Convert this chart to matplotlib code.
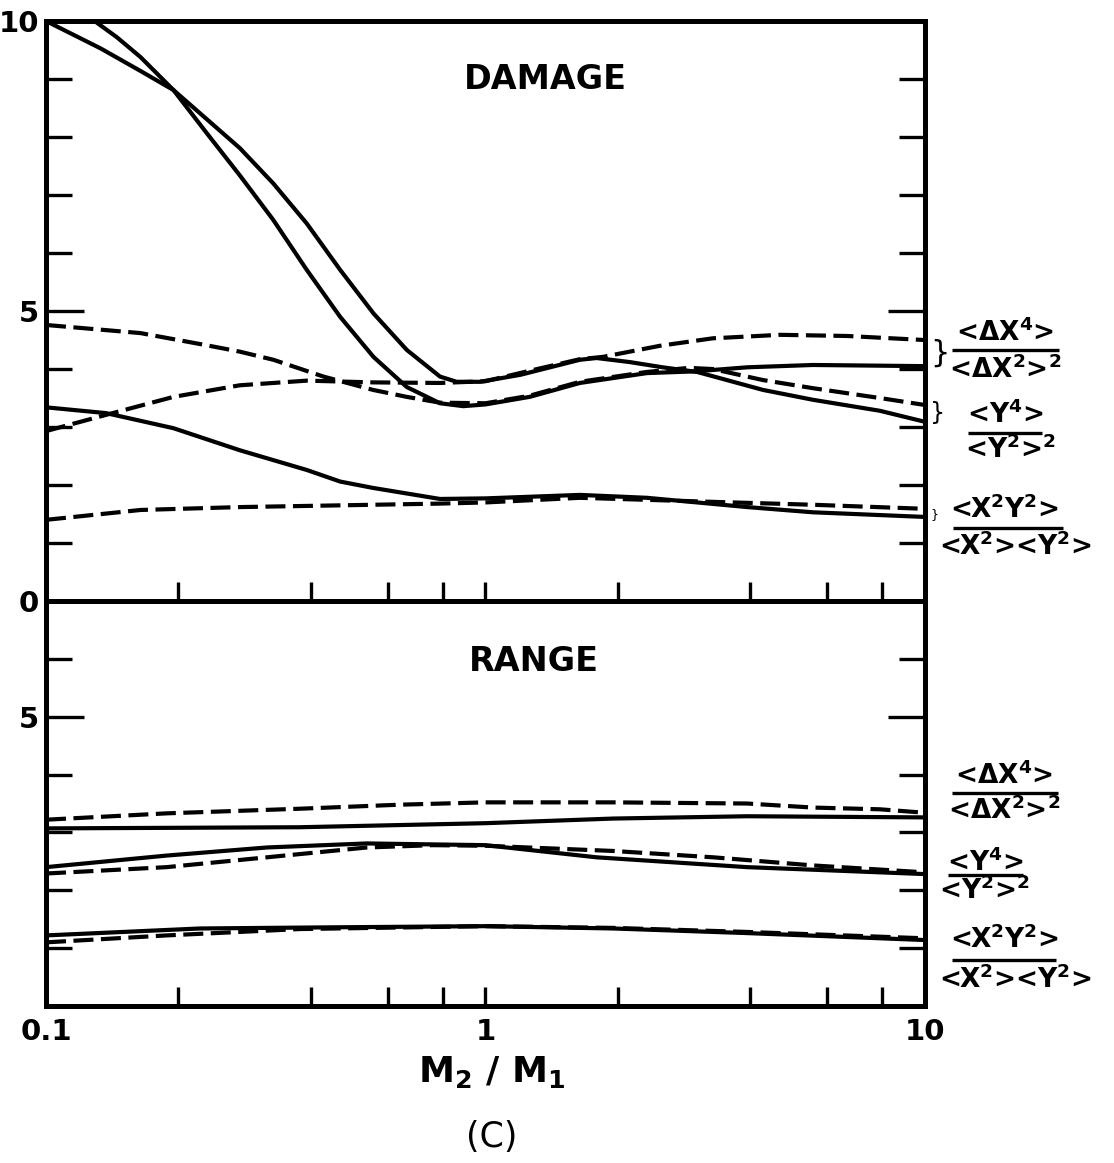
import matplotlib.pyplot as plt
from matplotlib.ticker import NullFormatter

plt.rcParams['font.family'] = ['DejaVu Sans']
plt.rcParams['mathtext.default'] = 'regular'

# ---- DAMAGE panel ----
dmg_dx4_solid_x = [0.1, 0.129, 0.145, 0.164, 0.195, 0.232, 0.276, 0.329, 0.392, 0.467,
                   0.556, 0.662, 0.788, 0.89, 1.0, 1.26, 1.64, 2.33, 3.0, 3.94, 5.56, 10]
dmg_dx4_solid = [10.6, 10.0, 9.72, 9.38, 8.81, 8.07, 7.34, 6.57, 5.71, 4.90,
                 4.21, 3.69, 3.41, 3.36, 3.39, 3.52, 3.76, 3.93, 3.96, 4.03, 4.07, 4.05]

dmg_y4_solid_x = [0.1, 0.133, 0.164, 0.195, 0.232, 0.276, 0.329, 0.392, 0.467, 0.556,
                  0.662, 0.788, 0.86, 0.972, 1.2, 1.64, 1.79, 2.13, 2.53, 3.03, 4.28,
                  5.56, 7.9, 10]
dmg_y4_solid = [10.0, 9.53, 9.14, 8.81, 8.31, 7.81, 7.20, 6.51, 5.71, 4.96,
                4.33, 3.87, 3.78, 3.78, 3.90, 4.16, 4.19, 4.12, 4.03, 3.95, 3.64,
                3.47, 3.28, 3.09]

dmg_dx4_dash_x = [0.1, 0.137, 0.195, 0.276, 0.392, 0.555, 0.788, 1.0, 1.26, 1.64,
                  1.85, 2.49, 3.29, 4.68, 6.65, 10]
dmg_dx4_dash = [2.93, 3.21, 3.52, 3.72, 3.80, 3.77, 3.76, 3.79, 3.97, 4.17,
                4.21, 4.40, 4.53, 4.59, 4.57, 4.50]

dmg_y4_dash_x = [0.1, 0.164, 0.232, 0.276, 0.329, 0.428, 0.555, 0.662, 0.788, 1.0, 1.26,
                 1.64, 2.33, 2.9, 3.29, 4.28, 5.56, 7.9, 10]
dmg_y4_dash = [4.76, 4.62, 4.41, 4.30, 4.16, 3.87, 3.64, 3.52, 3.42, 3.41, 3.54,
               3.78, 3.95, 4.02, 4.00, 3.81, 3.67, 3.50, 3.38]

dmg_xy_solid_x = [0.1, 0.137, 0.195, 0.276, 0.392, 0.467, 0.555, 0.788, 1.0, 1.64,
                  2.33, 3.94, 5.56, 10]
dmg_xy_solid = [3.34, 3.24, 2.98, 2.60, 2.26, 2.06, 1.95, 1.76, 1.77, 1.83,
                1.78, 1.62, 1.53, 1.45]

dmg_xy_dash_x = [0.1, 0.164, 0.276, 0.467, 0.788, 1.0, 1.64, 3.3, 5.56, 10]
dmg_xy_dash = [1.40, 1.57, 1.62, 1.65, 1.68, 1.70, 1.78, 1.71, 1.66, 1.59]

# ---- RANGE panel ----
rng_dx4_dash_x = [0.1, 0.188, 0.378, 0.64, 1.0, 1.95, 3.94, 5.56, 7.9, 10]
rng_dx4_dash = [3.22, 3.33, 3.41, 3.48, 3.52, 3.52, 3.50, 3.43, 3.40, 3.34]

rng_dx4_solid_x = [0.1, 0.378, 1.0, 1.95, 3.94, 10]
rng_dx4_solid = [3.07, 3.09, 3.16, 3.24, 3.28, 3.26]

rng_y4_solid_x = [0.1, 0.188, 0.318, 0.537, 1.0, 1.79, 3.94, 10]
rng_y4_solid = [2.40, 2.60, 2.74, 2.81, 2.78, 2.57, 2.40, 2.28]

rng_y4_dash_x = [0.1, 0.188, 0.318, 0.537, 0.76, 1.0, 1.95, 3.3, 5.56, 10]
rng_y4_dash = [2.29, 2.40, 2.57, 2.74, 2.78, 2.77, 2.68, 2.57, 2.43, 2.31]

rng_xy_solid_x = [0.1, 0.224, 0.45, 1.0, 1.95, 3.94, 10]
rng_xy_solid = [1.22, 1.34, 1.36, 1.38, 1.34, 1.26, 1.14]

rng_xy_dash_x = [0.1, 0.188, 0.378, 1.0, 1.95, 3.94, 10]
rng_xy_dash = [1.10, 1.22, 1.33, 1.38, 1.35, 1.28, 1.17]

x_major = [0.1, 1, 10]
x_major_labels = ['0.1', '1', '10']
x_minor = [0.2, 0.4, 0.6, 0.8, 2, 4, 6, 8]

LW = 3.0
DASH = (4.8, 1.8)

fig = plt.figure(figsize=(11.14, 11.63), dpi=100)
ax_top = fig.add_axes([0.0413, 0.4832, 0.789, 0.4987])
ax_bot = fig.add_axes([0.0413, 0.135, 0.789, 0.3482])


def style(ax, ymax, major, major_labels, minor):
    ax.set_xscale('log')
    ax.set_xlim(0.1, 10)
    ax.set_ylim(0, ymax)
    for s in ax.spines.values():
        s.set_linewidth(3.6)
    ax.set_xticks(x_major)
    ax.set_xticks(x_minor, minor=True)
    ax.xaxis.set_minor_formatter(NullFormatter())
    ax.set_yticks(major)
    ax.set_yticklabels(major_labels)
    ax.set_yticks(minor, minor=True)
    ax.tick_params(axis='y', which='major', direction='in', length=27, width=2.4,
                   left=True, right=True, labelsize=21, pad=5)
    ax.tick_params(axis='y', which='minor', direction='in', length=19, width=2.4,
                   left=True, right=True)
    ax.tick_params(axis='x', which='both', direction='in', length=14, width=2.4,
                   bottom=True, top=False, labelsize=21, pad=9)
    for lab in ax.get_yticklabels() + ax.get_xticklabels():
        lab.set_fontweight('bold')


def curve(ax, x, y, dashed=False):
    line, = ax.plot(x, y, color='black', lw=LW, solid_joinstyle='round')
    if dashed:
        line.set_dashes(DASH)


style(ax_top, 10, [0, 5, 10], ['0', '5', '10'], [1, 2, 3, 4, 6, 7, 8, 9])
ax_top.set_xticklabels([])
style(ax_bot, 7, [5], ['5'], [1, 2, 3, 4, 6])
ax_bot.set_xticklabels(x_major_labels)
for lab in ax_bot.get_xticklabels():
    lab.set_fontweight('bold')

curve(ax_top, dmg_dx4_solid_x, dmg_dx4_solid)
curve(ax_top, dmg_y4_solid_x, dmg_y4_solid)
curve(ax_top, dmg_dx4_dash_x, dmg_dx4_dash, dashed=True)
curve(ax_top, dmg_y4_dash_x, dmg_y4_dash, dashed=True)
curve(ax_top, dmg_xy_solid_x, dmg_xy_solid)
curve(ax_top, dmg_xy_dash_x, dmg_xy_dash, dashed=True)

curve(ax_bot, rng_dx4_dash_x, rng_dx4_dash, dashed=True)
curve(ax_bot, rng_dx4_solid_x, rng_dx4_solid)
curve(ax_bot, rng_y4_solid_x, rng_y4_solid)
curve(ax_bot, rng_y4_dash_x, rng_y4_dash, dashed=True)
curve(ax_bot, rng_xy_solid_x, rng_xy_solid)
curve(ax_bot, rng_xy_dash_x, rng_xy_dash, dashed=True)

ax_top.text(0.568, 0.90, 'DAMAGE', transform=ax_top.transAxes, ha='center', va='center',
            fontsize=24, fontweight='bold')
ax_bot.text(0.555, 0.85, 'RANGE', transform=ax_bot.transAxes, ha='center', va='center',
            fontsize=24, fontweight='bold')

# fraction labels to the right of each panel
dx4_num = r'<$\Delta$X$^{4}$>'
dx4_den = r'<$\Delta$X$^{2}$>$^{2}$'
y4_num = r'<Y$^{4}$>'
y4_den = r'<Y$^{2}$>$^{2}$'
xy_num = r'<X$^{2}$Y$^{2}$>'
xy_den = r'<X$^{2}$><Y$^{2}$>'


def fraction(ax, xc, y_num, y_bar, y_den, x0, x1, num, den, den_dx=0.0):
    tr = ax.get_yaxis_transform()
    ax.text(xc, y_num, num, transform=tr, ha='center', va='center', fontsize=19,
            fontweight='bold', clip_on=False)
    ax.text(xc + den_dx, y_den, den, transform=tr, ha='center', va='center', fontsize=19,
            fontweight='bold', clip_on=False)
    ax.plot([x0, x1], [y_bar, y_bar], transform=tr, color='black', lw=2.4,
            solid_capstyle='butt', clip_on=False)


def brace(ax, y, size):
    ax.text(1.006, y, '}', transform=ax.get_yaxis_transform(), ha='left', va='center',
            fontsize=size, clip_on=False)


fraction(ax_top, 1.091, 4.62, 4.33, 3.98, 1.031, 1.153, dx4_num, dx4_den)
fraction(ax_top, 1.091, 3.21, 2.90, 2.60, 1.049, 1.133, y4_num, y4_den, den_dx=0.006)
fraction(ax_top, 1.090, 1.57, 1.26, 0.93, 1.032, 1.157, xy_num, xy_den, den_dx=0.013)
brace(ax_top, 4.28, 22)
brace(ax_top, 3.24, 17)
brace(ax_top, 1.50, 9)

fraction(ax_bot, 1.090, 3.98, 3.69, 3.38, 1.031, 1.151, dx4_num, dx4_den)
fraction(ax_bot, 1.068, 2.47, 2.26, 2.00, 1.026, 1.111, y4_num, y4_den)
fraction(ax_bot, 1.090, 1.14, 0.79, 0.45, 1.031, 1.149, xy_num, xy_den, den_dx=0.013)

fig.text(0.441, 0.078, r'M$_{2}$ / M$_{1}$', ha='center', va='center', fontsize=26,
         fontweight='bold')
fig.text(0.441, 0.022, '(C)', ha='center', va='center', fontsize=25)

fig.savefig('out.png', dpi=100)
